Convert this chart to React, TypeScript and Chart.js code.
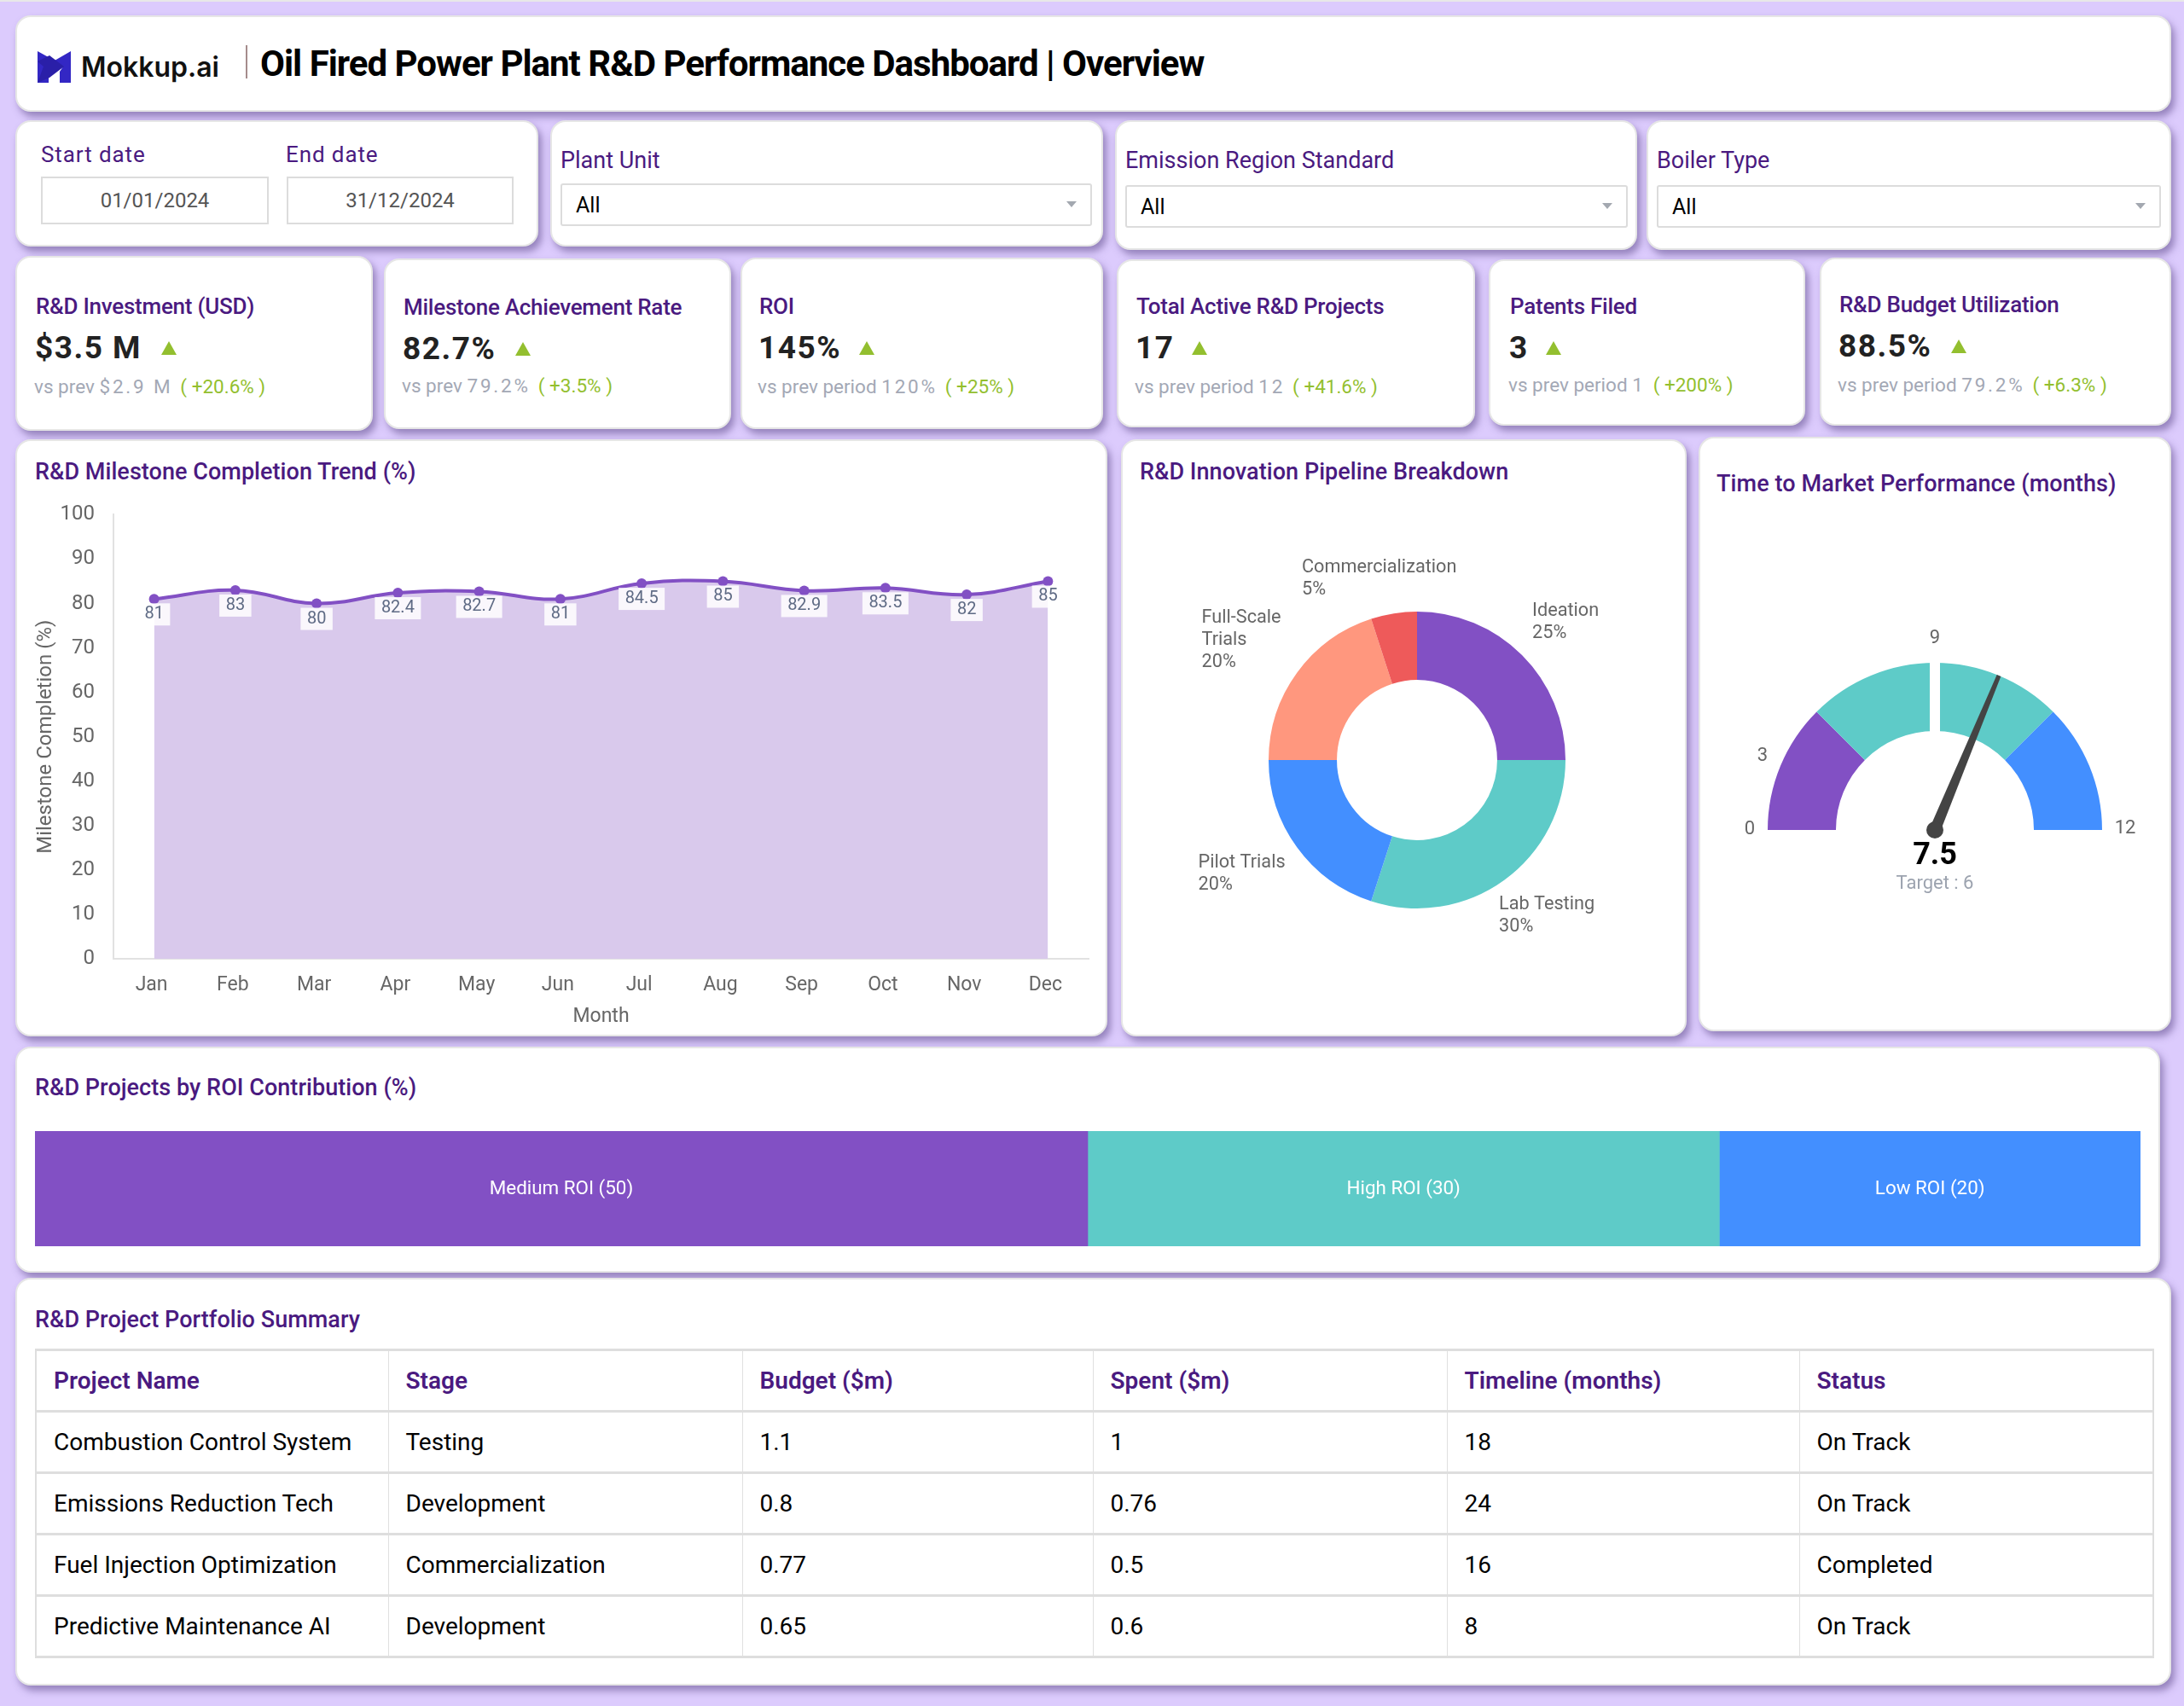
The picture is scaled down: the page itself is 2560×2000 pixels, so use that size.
import { useEffect, useRef } from "react";
import { Chart, registerables } from "chart.js";

Chart.register(...registerables);

const FONT = "Roboto";
const INK = "#4A1A80";
const PURPLE = "#8250C4";
const TEAL = "#5ECBC8";
const BLUE = "#438FFF";
const SALMON = "#FF977E";
const RED = "#EE5A5A";

// trend
const months = ["Jan", "Feb", "Mar", "Apr", "May", "Jun", "Jul", "Aug", "Sep", "Oct", "Nov", "Dec"];
const milestoneValues = [81, 83, 80, 82.4, 82.7, 81, 84.5, 85, 82.9, 83.5, 82, 85];

// pipeline donut
const pipelineLabels = ["Ideation", "Lab Testing", "Pilot Trials", "Full-Scale\nTrials", "Commercialization"];
const pipelineValues = [25, 30, 20, 20, 5];

// gauge
const gaugeBands = [3, 6, 3];
const gaugeTicks = ["0", "3", "9", "12"];
const gaugeValue = 7.5;
const gaugeTarget = 6;
const gaugeMax = 12;

// roi strip
const roiLabels = ["Medium ROI", "High ROI", "Low ROI"];
const roiValues = [50, 30, 20];

// kpis
const kpiTitles = ["R&D Investment (USD)", "Milestone Achievement Rate", "ROI", "Total Active R&D Projects", "Patents Filed", "R&D Budget Utilization"];
const kpiValues = ["$3.5 M", "82.7%", "145%", "17", "3", "88.5%"];
const kpiPrevLabels = ["vs prev", "vs prev", "vs prev period", "vs prev period", "vs prev period", "vs prev period"];
const kpiPrev = ["$2.9 M", "79.2%", "120%", "12", "1", "79.2%"];
const kpiDeltas = ["+20.6%", "+3.5%", "+25%", "+41.6%", "+200%", "+6.3%"];

// table
const tableHead = ["Project Name", "Stage", "Budget ($m)", "Spent ($m)", "Timeline (months)", "Status"];
const tableRows = [
  ["Combustion Control System", "Testing", "1.1", "1", "18", "On Track"],
  ["Emissions Reduction Tech", "Development", "0.8", "0.76", "24", "On Track"],
  ["Fuel Injection Optimization", "Commercialization", "0.77", "0.5", "16", "Completed"],
  ["Predictive Maintenance AI", "Development", "0.65", "0.6", "8", "On Track"],
];

function useChart(make: (canvas: HTMLCanvasElement) => Chart) {
  const ref = useRef<HTMLCanvasElement>(null);
  useEffect(() => {
    if (!ref.current) return;
    const chart = make(ref.current);
    return () => chart.destroy();
  }, []);
  return ref;
}

function LineCard() {
  const ref = useChart(
    (canvas) =>
      new Chart(canvas, {
        type: "line",
        data: {
          labels: months,
          datasets: [
            {
              data: milestoneValues,
              borderColor: PURPLE,
              backgroundColor: "#D9C9EC",
              fill: "origin",
              tension: 0.4,
              borderWidth: 4,
              pointRadius: 6,
              pointBackgroundColor: PURPLE,
              pointBorderWidth: 0,
            },
          ],
        },
        options: {
          responsive: false,
          animation: false,
          events: [],
          layout: { padding: { top: 0, right: 14 } },
          plugins: { legend: { display: false }, tooltip: { enabled: false } },
          scales: {
            x: {
              offset: true,
              afterFit: (s: any) => { s.height = 86; },
              grid: { display: false },
              border: { color: "#e2e2e2", width: 2 },
              ticks: { padding: 9, color: "#666", font: { family: FONT, size: 23 }, maxRotation: 0, labelOffset: -3 },
              title: { display: true, text: "Month", color: "#666", font: { family: FONT, size: 23 }, padding: { top: 0, bottom: 4 } },
            },
            y: {
              min: 0,
              max: 100,
              afterFit: (s: any) => { s.width = 103; },
              grid: { display: false },
              border: { color: "#e2e2e2", width: 2 },
              ticks: { stepSize: 10, padding: 14, color: "#666", font: { family: FONT, size: 24 } },
              title: { display: true, text: "Milestone Completion (%)", color: "#666", font: { family: FONT, size: 24 }, padding: { top: 10, bottom: 0 } },
            },
          },
        },
        plugins: [
          {
            id: "pointLabels",
            afterDatasetsDraw(chart: Chart) {
              const { ctx } = chart;
              const meta = chart.getDatasetMeta(0);
              ctx.save();
              ctx.font = `20px ${FONT}`;
              ctx.textAlign = "center";
              ctx.textBaseline = "middle";
              meta.data.forEach((pt: any, i: number) => {
                const text = String(milestoneValues[i]);
                const w = ctx.measureText(text).width + 15;
                ctx.fillStyle = "rgba(255,255,255,0.85)";
                ctx.fillRect(pt.x - w / 2, pt.y + 5, w, 26);
                ctx.fillStyle = "#5F6B85";
                ctx.fillText(text, pt.x, pt.y + 18);
              });
              ctx.restore();
            },
          },
        ],
      } as any)
  );
  return <canvas ref={ref} width={1260} height={635} style={{ position: "absolute", left: 30, top: 575 }} />;
}

// label anchors relative to the donut centre
const pipelineOffsets = [[135, -174], [96, 170], [-256.5, 121], [-252.5, -166], [-135, -225]];

function DonutCard() {
  const ref = useChart(
    (canvas) =>
      new Chart(canvas, {
        type: "doughnut",
        data: {
          labels: pipelineLabels,
          datasets: [{ data: pipelineValues, backgroundColor: [PURPLE, TEAL, BLUE, SALMON, RED], borderWidth: 0 }],
        },
        options: {
          responsive: false,
          animation: false,
          events: [],
          cutout: "54%",
          layout: { padding: { left: 167, right: 135, top: 117, bottom: 125 } },
          plugins: { legend: { display: false }, tooltip: { enabled: false } },
        },
        plugins: [
          {
            id: "outLabels",
            afterDatasetsDraw(chart: Chart) {
              const { ctx } = chart;
              const arc: any = chart.getDatasetMeta(0).data[0];
              ctx.save();
              ctx.font = `21.7px ${FONT}`;
              ctx.fillStyle = "#666";
              ctx.textAlign = "left";
              ctx.textBaseline = "middle";
              pipelineLabels.forEach((label, i) => {
                const lines = [...label.split("\n"), `${pipelineValues[i]}%`];
                lines.forEach((line, j) => {
                  ctx.fillText(line, arc.x + pipelineOffsets[i][0], arc.y + pipelineOffsets[i][1] + j * 26);
                });
              });
              ctx.restore();
            },
          },
        ],
      } as any)
  );
  return <canvas ref={ref} width={650} height={590} style={{ position: "absolute", left: 1320, top: 600 }} />;
}

const gaugeTickOffsets = [[-217, -1], [-202, -87], [0, -225], [223, -2]];

function GaugeCard() {
  const ref = useChart(
    (canvas) =>
      new Chart(canvas, {
        type: "doughnut",
        data: {
          labels: ["low", "mid", "high"],
          datasets: [{ data: gaugeBands, backgroundColor: [PURPLE, TEAL, BLUE], borderWidth: 0 }],
        },
        options: {
          responsive: false,
          animation: false,
          events: [],
          rotation: -90,
          circumference: 180,
          cutout: "59.2%",
          layout: { padding: { left: 72, right: 72, top: 77, bottom: 127 } },
          plugins: { legend: { display: false }, tooltip: { enabled: false } },
        },
        plugins: [
          {
            id: "needle",
            afterDatasetsDraw(chart: Chart) {
              const { ctx } = chart;
              const arc: any = chart.getDatasetMeta(0).data[0];
              const { x, y, outerRadius, innerRadius } = arc;
              const at = (v: number) => Math.PI + (v / gaugeMax) * Math.PI;

              // target mark
              ctx.save();
              ctx.translate(x, y);
              ctx.rotate(at(gaugeTarget));
              ctx.fillStyle = "#fff";
              ctx.fillRect(innerRadius - 2, -6, outerRadius - innerRadius + 5, 12);
              ctx.restore();

              // needle
              ctx.save();
              ctx.translate(x, y);
              ctx.rotate(at(gaugeValue));
              ctx.fillStyle = "#444";
              ctx.beginPath();
              ctx.moveTo(0, -6.5);
              ctx.lineTo(outerRadius, -2.5);
              ctx.lineTo(outerRadius, 2.5);
              ctx.lineTo(0, 6.5);
              ctx.closePath();
              ctx.fill();
              ctx.restore();
              ctx.fillStyle = "#444";
              ctx.beginPath();
              ctx.arc(x, y, 10, 0, Math.PI * 2);
              ctx.fill();

              ctx.save();
              ctx.textAlign = "center";
              ctx.textBaseline = "middle";
              ctx.font = `22px ${FONT}`;
              ctx.fillStyle = "#666";
              gaugeTicks.forEach((t, i) => ctx.fillText(t, x + gaugeTickOffsets[i][0], y + gaugeTickOffsets[i][1]));
              ctx.font = `bold 36px ${FONT}`;
              ctx.fillStyle = "#000";
              ctx.fillText(String(gaugeValue), x, y + 31);
              ctx.font = `22px ${FONT}`;
              ctx.fillStyle = "#9CA3AF";
              ctx.fillText(`Target : ${gaugeTarget}`, x, y + 63);
              ctx.restore();
            },
          },
        ],
      } as any)
  );
  return <canvas ref={ref} width={536} height={400} style={{ position: "absolute", left: 2000, top: 700 }} />;
}

function RoiStrip() {
  const ref = useChart(
    (canvas) =>
      new Chart(canvas, {
        type: "bar",
        data: {
          labels: ["ROI"],
          datasets: roiValues.map((v, i) => ({
            label: roiLabels[i],
            data: [v],
            backgroundColor: [PURPLE, TEAL, BLUE][i],
            barPercentage: 1,
            categoryPercentage: 1,
            borderWidth: 0,
          })),
        },
        options: {
          indexAxis: "y",
          responsive: false,
          animation: false,
          events: [],
          layout: { padding: 0 },
          plugins: { legend: { display: false }, tooltip: { enabled: false } },
          scales: {
            x: { stacked: true, display: false, min: 0, max: 100 },
            y: { stacked: true, display: false },
          },
        },
        plugins: [
          {
            id: "stripLabels",
            afterDatasetsDraw(chart: Chart) {
              const { ctx } = chart;
              ctx.save();
              ctx.font = `22.4px ${FONT}`;
              ctx.fillStyle = "#fff";
              ctx.textAlign = "center";
              ctx.textBaseline = "middle";
              roiLabels.forEach((label, i) => {
                const bar: any = chart.getDatasetMeta(i).data[0];
                ctx.fillText(`${label} (${roiValues[i]})`, (bar.base + bar.x) / 2, bar.y + 1);
              });
              ctx.restore();
            },
          },
        ],
      } as any)
  );
  return <canvas ref={ref} width={2468} height={135} style={{ position: "absolute", left: 41, top: 1326 }} />;
}

function Card({ x, y, w, h }: { x: number; y: number; w: number; h: number }) {
  return (
    <div
      style={{
        position: "absolute",
        left: x,
        top: y,
        width: w,
        height: h,
        boxSizing: "border-box",
        background: "#fff",
        border: "2px solid #e6e6e6",
        borderRadius: 18,
        boxShadow: "4px 6px 9px rgba(80,60,125,0.5)",
      }}
    />
  );
}

function T({ x, y, size, weight = 400, color = INK, ls = 0, children }: any) {
  return (
    <div
      style={{
        position: "absolute",
        left: x,
        top: y,
        transform: "translateY(-50%)",
        fontFamily: FONT,
        fontSize: size,
        fontWeight: weight,
        color,
        letterSpacing: ls,
        lineHeight: 1.2,
        whiteSpace: "nowrap",
      }}
    >
      {children}
    </div>
  );
}

function Box({ x, y, w, h, children, radius = 0 }: any) {
  return (
    <div
      style={{
        position: "absolute",
        left: x,
        top: y,
        width: w,
        height: h,
        boxSizing: "border-box",
        border: "2px solid #dcdcdc",
        borderRadius: radius,
        display: "flex",
        alignItems: "center",
        justifyContent: "center",
        fontFamily: FONT,
        fontSize: 24,
        color: "#555",
      }}
    >
      {children}
    </div>
  );
}

function Arrow({ x, y }: { x: number; y: number }) {
  return (
    <div
      style={{
        position: "absolute",
        left: x - 6,
        top: y - 3,
        width: 0,
        height: 0,
        borderLeft: "6px solid transparent",
        borderRight: "6px solid transparent",
        borderTop: "7px solid #A3A8B0",
      }}
    />
  );
}

const kpiCards = [
  [18, 300, 419, 205], [450, 303, 407, 200], [868, 302, 425, 201],
  [1309, 304, 420, 197], [1745, 304, 371, 195], [2133, 302, 412, 197],
];
const kpiAnchors = [
  [42, 360, 198, 453], [473, 361, 613, 452], [890, 360, 1016, 453],
  [1332, 360, 1406, 453], [1770, 360, 1821, 451], [2156, 358, 2296, 451],
];

const selects = [
  { label: "Plant Unit", lx: 657, ly: 188, x: 657, y: 215, w: 623, h: 50 },
  { label: "Emission Region Standard", lx: 1319, ly: 188, x: 1319, y: 217, w: 589, h: 50 },
  { label: "Boiler Type", lx: 1942, ly: 188, x: 1942, y: 217, w: 591, h: 50 },
];

const columnWidths = [413, 415, 411, 415, 413, 415];

export default function App() {
  return (
    <div style={{ position: "absolute", left: 0, top: 0, width: 2560, height: 2000, background: "#DCCBFD", overflow: "hidden" }}>
      <div style={{ position: "absolute", left: 0, top: 0, width: 2560, height: 2, background: "#e8e8e8" }} />

      <Card x={18} y={18} w={2527} h={113} />
      <svg style={{ position: "absolute", left: 44, top: 60 }} width={39} height={37} viewBox="0 0 39 37">
        <path d="M0 0 L20 11 L39 0 V37 L26 37 V24 L30 18 L13 7 L13 37 L0 37 Z" fill="#3327C4" />
        <path d="M0 12 L14 5 L31 18 L14 31 L0 37 L7 18 Z" fill="#2A1FA8" />
      </svg>
      <T x={95} y={79} size={32} weight={600} color="#111">
        <span style={{ fontFamily: "Inter" }}>Mokkup.ai</span>
      </T>
      <div style={{ position: "absolute", left: 288, top: 53, width: 2, height: 39, background: "#A58C8C" }} />
      <T x={305} y={75} size={42} weight={700} color="#000" ls={-1}>
        Oil Fired Power Plant R&amp;D Performance Dashboard | Overview
      </T>

      <Card x={18} y={141} w={613} h={148} />
      <T x={48} y={182} size={26} ls={0.9}>Start date</T>
      <T x={335} y={182} size={26} ls={0.9}>End date</T>
      <Box x={48} y={207} w={267} h={56}>01/01/2024</Box>
      <Box x={336} y={207} w={266} h={56}>31/12/2024</Box>

      <Card x={645} y={141} w={648} h={148} />
      <Card x={1307} y={141} w={612} h={152} />
      <Card x={1930} y={141} w={615} h={152} />
      {selects.map((s) => (
        <div key={s.label}>
          <T x={s.lx} y={s.ly} size={27}>{s.label}</T>
          <Box x={s.x} y={s.y} w={s.w} h={s.h} radius={3} />
          <T x={s.x + 18} y={s.y + 26} size={25} color="#000">All</T>
          <Arrow x={s.x + s.w - 24} y={s.y + 24} />
        </div>
      ))}

      {kpiCards.map(([x, y, w, h], i) => {
        const [tx, ty, tri, sy] = kpiAnchors[i];
        return (
          <div key={kpiTitles[i]}>
            <Card x={x} y={y} w={w} h={h} />
            <T x={tx} y={ty} size={26} weight={500} ls={-0.25}>{kpiTitles[i]}</T>
            <T x={tx - 1} y={ty + 48} size={37} weight={700} color="#222" ls={1.5}>{kpiValues[i]}</T>
            <div
              style={{
                position: "absolute",
                left: tri - 9,
                top: ty + 40,
                width: 0,
                height: 0,
                borderLeft: "9px solid transparent",
                borderRight: "9px solid transparent",
                borderBottom: "16px solid #93BF2F",
              }}
            />
            <T x={tx - 2} y={sy} size={22.5} color="#A3A8B5">
              {kpiPrevLabels[i]} <span style={{ letterSpacing: 2.8 }}>{kpiPrev[i]}</span>
              <span style={{ color: "#93BF2F", marginLeft: 9 }}>( {kpiDeltas[i]} )</span>
            </T>
          </div>
        );
      })}

      <Card x={18} y={515} w={1280} h={700} />
      <T x={41} y={553} size={27} weight={500} ls={0.05}>R&amp;D Milestone Completion Trend (%)</T>
      <LineCard />

      <Card x={1314} y={515} w={663} h={700} />
      <T x={1336} y={553} size={27} weight={500} ls={0.05}>R&amp;D Innovation Pipeline Breakdown</T>
      <DonutCard />

      <Card x={1991} y={512} w={554} h={697} />
      <T x={2012} y={567} size={27} weight={500} ls={0.1}>Time to Market Performance (months)</T>
      <GaugeCard />

      <Card x={18} y={1227} w={2514} h={265} />
      <T x={41} y={1275} size={27} weight={500} ls={0.05}>R&amp;D Projects by ROI Contribution (%)</T>
      <RoiStrip />

      <Card x={18} y={1498} w={2527} h={478} />
      <T x={41} y={1547} size={27} weight={500} ls={0.05}>R&amp;D Project Portfolio Summary</T>
      <table
        style={{
          position: "absolute",
          left: 41,
          top: 1581,
          width: 2482,
          tableLayout: "fixed",
          borderCollapse: "collapse",
          border: "2px solid #dedede",
          fontFamily: FONT,
          fontSize: 28,
        }}
      >
        <colgroup>
          {columnWidths.map((w, i) => (
            <col key={i} style={{ width: w }} />
          ))}
        </colgroup>
        <thead>
          <tr>
            {tableHead.map((h) => (
              <th key={h} style={{ ...cellStyle, color: INK, fontWeight: 600 }}>{h}</th>
            ))}
          </tr>
        </thead>
        <tbody>
          {tableRows.map((row) => (
            <tr key={row[0]}>
              {row.map((c, i) => (
                <td key={i} style={{ ...cellStyle, color: "#000", fontWeight: 400 }}>{c}</td>
              ))}
            </tr>
          ))}
        </tbody>
      </table>
    </div>
  );
}

const cellStyle: any = {
  height: 72,
  boxSizing: "border-box",
  padding: "0 0 0 20px",
  textAlign: "left",
  borderTop: "3px solid #dedede",
  borderBottom: "3px solid #dedede",
  borderLeft: "1px solid #e0e0e0",
  borderRight: "1px solid #e0e0e0",
};
